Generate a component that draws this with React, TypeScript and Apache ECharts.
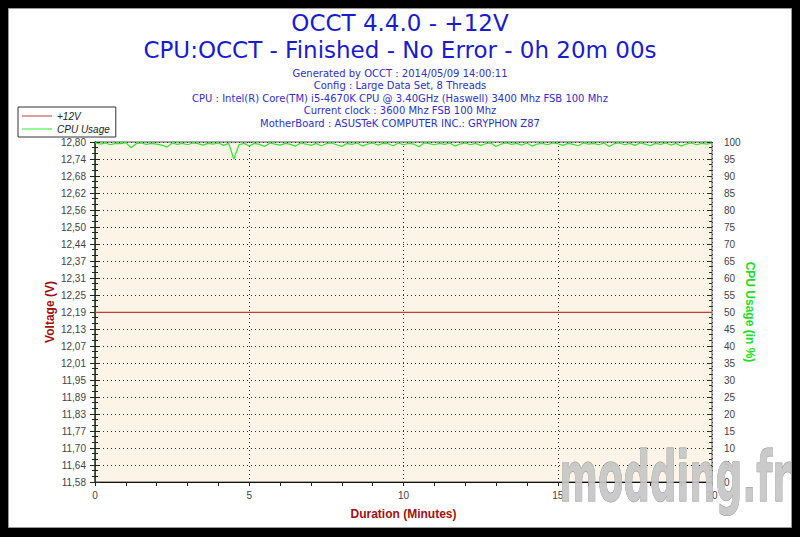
import React, { useEffect, useRef } from "react";
import * as echarts from "echarts";

// ---------- Data ----------
const titleLines = ["OCCT 4.4.0 - +12V", "CPU:OCCT - Finished - No Error - 0h 20m 00s"];
const infoLines = [
  "Generated by OCCT : 2014/05/09 14:00:11",
  "Config : Large Data Set, 8 Threads",
  "CPU : Intel(R) Core(TM) i5-4670K CPU @ 3.40GHz (Haswell) 3400 Mhz FSB 100 Mhz",
  "Current clock : 3600 Mhz FSB 100 Mhz",
  "MotherBoard : ASUSTeK COMPUTER INC.: GRYPHON Z87",
];

// Voltage axis tick labels (bottom to top)
const voltTickLabels = [
  "11,58", "11,64", "11,70", "11,77", "11,83", "11,89", "11,95", "12,01", "12,07", "12,13",
  "12,19", "12,25", "12,31", "12,37", "12,44", "12,50", "12,56", "12,62", "12,68", "12,74", "12,80",
];
const V_MIN = 11.583;
const V_MAX = 12.8;

// +12V readings, one per minute
const voltMinutes = [0, 1, 2, 3, 4, 5, 6, 7, 8, 9, 10, 11, 12, 13, 14, 15, 16, 17, 18, 19, 20];
const voltValues = [
  12.19, 12.19, 12.19, 12.19, 12.19, 12.19, 12.19, 12.19, 12.19, 12.19, 12.19,
  12.19, 12.19, 12.19, 12.19, 12.19, 12.19, 12.19, 12.19, 12.19, 12.19,
];

// CPU usage (%) sampled every 10 seconds
const CPU_SAMPLE_SECONDS = 10;
const cpuValues = [
  99.8, 99.4, 99.7, 99.2, 99.6, 99.5, 99.8, 98.3, 99.5, 99.7,
  99.3, 99.6, 99.4, 99.1, 98.5, 99.7, 99.3, 99.6, 99.2, 99.7,
  99.5, 99.1, 99.6, 99.4, 99.7, 99.0, 99.6, 95.0, 99.2, 99.6,
  98.8, 99.6, 99.3, 98.7, 99.7, 99.4, 99.1, 99.6, 99.3, 98.8,
  99.7, 99.4, 99.0, 99.6, 98.9, 99.5, 99.7, 99.2, 98.7, 99.6,
  99.3, 99.7, 98.8, 99.4, 99.7, 99.1, 99.6, 99.5, 98.9, 99.7,
  99.2, 99.6, 99.4, 98.6, 99.7, 99.5, 99.2, 99.6, 99.3, 99.7,
  98.8, 99.4, 99.7, 99.2, 99.6, 99.0, 99.5, 99.7, 98.7, 99.4,
  99.7, 99.3, 99.6, 99.1, 99.7, 98.8, 99.4, 99.6, 99.2, 99.7,
  99.5, 99.0, 99.6, 99.3, 98.9, 99.7, 99.4, 99.6, 99.2, 99.7,
  98.7, 99.5, 99.7, 99.2, 99.6, 99.0, 99.7, 99.4, 98.9, 99.6,
  99.3, 99.7, 99.1, 99.6, 98.8, 99.4, 99.7, 99.2, 99.6, 99.4, 99.7,
];

const xTickLabels = ["0", "5", "10", "15", "20"];

// ---------- Chart ----------
const FONT = "'Liberation Sans', Arial, sans-serif";
const TITLE_FONT = "'DejaVu Sans', Verdana, sans-serif";

export default function App() {
  const ref = useRef<HTMLDivElement>(null);

  useEffect(() => {
    if (!ref.current) return;
    const chart = echarts.init(ref.current, undefined, { renderer: "svg" });

    const vIdx = (v: number) => ((v - V_MIN) / (V_MAX - V_MIN)) * (voltTickLabels.length - 1);
    const voltData = voltMinutes.map((m, i) => [m, vIdx(voltValues[i])]);
    const cpuData = cpuValues.map((v, i) => [(i * CPU_SAMPLE_SECONDS) / 60, v]);

    const tickColor = "#222";
    const baseX = { type: "value", min: 0, max: 20, interval: 1, gridIndex: 0 };
    const baseVY = { type: "value", min: 0, max: 20, interval: 1 };
    const baseCY = { type: "value", min: 0, max: 100, interval: 5 };
    const hiddenParts = {
      axisLabel: { show: false },
      axisLine: { show: false },
      splitLine: { show: false },
      name: "",
    };

    const option: any = {
      animation: false,
      backgroundColor: "#000",
      textStyle: { fontFamily: FONT },
      grid: {
        left: 95,
        right: 88,
        top: 142,
        bottom: 55,
        show: true,
        backgroundColor: "#fcf5e7",
        borderColor: "#555",
        borderWidth: 1,
      },
      legend: {
        orient: "vertical",
        left: 18,
        top: 107,
        backgroundColor: "#fff",
        borderColor: "#333",
        borderWidth: 1,
        borderRadius: 0,
        padding: [4, 6, 3, 4],
        itemGap: 3,
        itemWidth: 30,
        itemHeight: 12,
        icon: "path://M0,6L30,6L30,7L0,7Z",
        textStyle: { fontStyle: "italic", fontSize: 10, color: "#222", fontFamily: FONT },
        data: ["+12V", "CPU Usage"],
      },
      xAxis: [
        {
          ...baseX,
          name: "Duration (Minutes)",
          nameLocation: "middle",
          nameGap: 26,
          nameMoveOverlap: false,
          nameTextStyle: { color: "#a01010", fontWeight: "bold", fontSize: 12, fontFamily: FONT },
          axisLine: { show: true, lineStyle: { color: "#111", width: 1 } },
          axisTick: { show: true, inside: false, length: 4, lineStyle: { color: tickColor } },
          axisLabel: {
            show: true,
            margin: 8,
            color: "#444",
            fontSize: 10,
            formatter: (v: number) => (v % 5 === 0 ? xTickLabels[v / 5] : ""),
          },
          splitLine: { show: false },
        },
        {
          ...baseX,
          ...hiddenParts,
          axisTick: { show: true, inside: true, length: 4, lineStyle: { color: tickColor } },
        },
        {
          type: "value",
          min: 0,
          max: 20,
          interval: 5,
          axisLabel: { show: false },
          axisLine: { show: false },
          axisTick: { show: false },
          splitLine: { show: true, lineStyle: { color: "#333", type: [1, 3], width: 1 } },
        },
      ],
      yAxis: [
        {
          ...baseVY,
          position: "left",
          name: "Voltage (V)",
          nameLocation: "middle",
          nameGap: 39,
          nameMoveOverlap: false,
          nameRotate: 90,
          nameTextStyle: { color: "#a01010", fontWeight: "bold", fontSize: 12, fontFamily: FONT },
          axisLine: { show: true, lineStyle: { color: "#111", width: 1 } },
          axisTick: { show: true, inside: false, length: 5, lineStyle: { color: tickColor } },
          minorTick: { show: true, splitNumber: 3, length: 3, lineStyle: { color: tickColor } },
          axisLabel: {
            show: true,
            margin: 9,
            color: "#444",
            fontSize: 10,
            formatter: (v: number) => voltTickLabels[Math.round(v)] ?? "",
          },
          splitLine: { show: true, lineStyle: { color: "#333", type: [1, 3], width: 1 } },
        },
        {
          ...baseCY,
          position: "right",
          name: "CPU Usage (in %)",
          nameLocation: "middle",
          nameGap: 32,
          nameMoveOverlap: false,
          nameRotate: -90,
          nameTextStyle: { color: "#22dd22", fontWeight: "bold", fontSize: 12, fontFamily: FONT },
          axisLine: { show: true, lineStyle: { color: "#2f5a2f", width: 1.5 } },
          axisTick: { show: true, inside: false, length: 5, lineStyle: { color: "#1d3a1d" } },
          minorTick: { show: true, splitNumber: 3, length: 3, lineStyle: { color: "#1d3a1d" } },
          axisLabel: { show: true, margin: 12, color: "#444", fontSize: 10 },
          splitLine: { show: false },
        },
        {
          ...baseVY,
          position: "left",
          ...hiddenParts,
          axisTick: { show: true, inside: true, length: 5, lineStyle: { color: tickColor } },
          minorTick: { show: true, splitNumber: 3, length: 3, lineStyle: { color: tickColor } },
        },
        {
          ...baseCY,
          position: "right",
          ...hiddenParts,
          axisTick: { show: true, inside: true, length: 5, lineStyle: { color: "#1d3a1d" } },
          minorTick: { show: true, splitNumber: 3, length: 3, lineStyle: { color: "#1d3a1d" } },
        },
      ],
      series: [
        {
          name: "+12V",
          type: "line",
          xAxisIndex: 0,
          yAxisIndex: 0,
          data: voltData,
          symbol: "none",
          lineStyle: { color: "#c83a3a", width: 1.2 },
          itemStyle: { color: "#c83a3a" },
          z: 5,
        },
        {
          name: "CPU Usage",
          type: "line",
          xAxisIndex: 0,
          yAxisIndex: 1,
          data: cpuData,
          symbol: "none",
          lineStyle: { color: "#2ee82e", width: 1.2 },
          itemStyle: { color: "#2ee82e" },
          z: 6,
        },
      ],
      graphic: [
        {
          type: "rect",
          z: -100,
          silent: true,
          shape: { x: 8.5, y: 8.5, width: 783, height: 519 },
          style: { fill: "#fff", stroke: "#9a9a9a", lineWidth: 1 },
        },
        {
          type: "text",
          x: 400,
          y: 23,
          silent: true,
          style: {
            text: titleLines[0],
            fill: "#1a1ad0",
            fontSize: 23,
            fontFamily: TITLE_FONT,
            align: "center",
            verticalAlign: "middle",
          },
        },
        {
          type: "text",
          x: 400,
          y: 50,
          silent: true,
          style: {
            text: titleLines[1],
            fill: "#1a1ad0",
            fontSize: 23,
            fontFamily: TITLE_FONT,
            align: "center",
            verticalAlign: "middle",
          },
        },
        ...infoLines.map((t, i) => ({
          type: "text",
          x: 400,
          y: 73 + i * 12.5,
          silent: true,
          style: {
            text: t,
            fill: "#3030c8",
            fontSize: 10,
            fontFamily: TITLE_FONT,
            align: "center",
            verticalAlign: "middle",
          },
        })),
        {
          type: "text",
          x: 675,
          y: 477,
          z: 100,
          silent: true,
          scaleX: 0.53,
          style: {
            text: "modding.fr",
            fill: "#c6c6c6",
            stroke: "#8a8a8a",
            lineWidth: 1,
            fontSize: 70,
            fontWeight: "bold",
            fontFamily: "'DejaVu Sans', sans-serif",
            align: "center",
            verticalAlign: "middle",
            opacity: 0.92,
          },
        },
      ],
    };

    chart.setOption(option);
    return () => chart.dispose();
  }, []);

  return (
    <div
      ref={ref}
      style={{ position: "absolute", left: 0, top: 0, width: 800, height: 537 }}
    />
  );
}
